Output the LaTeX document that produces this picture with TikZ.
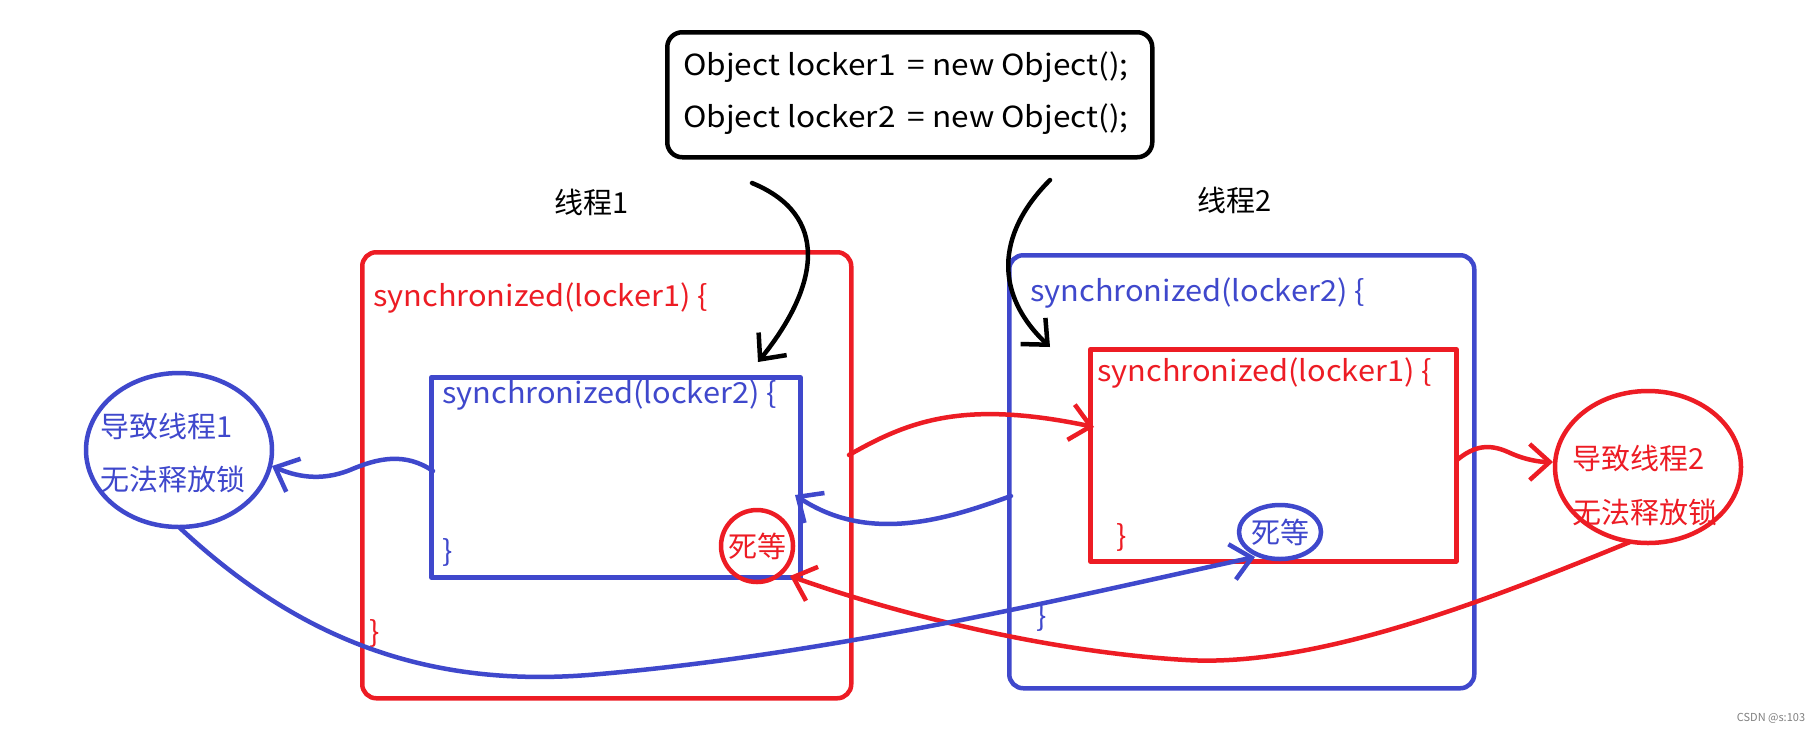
\documentclass[tikz,border=0pt]{standalone}
\usepackage{fontspec}
\setmainfont{Noto Sans CJK SC}
\newfontfamily\latfont[FakeStretch=1.06]{Noto Sans CJK SC}
\newfontfamily\codefont[FakeStretch=1.09]{Noto Sans CJK SC}
\usetikzlibrary{arrows.meta,shapes.geometric}
\definecolor{pred}{HTML}{ED1C24}
\definecolor{pblue}{HTML}{3F48CC}
\begin{document}
\begin{tikzpicture}[x=1pt,y=-1pt,line cap=round,line join=round,
  txt/.style={font=\fontsize{29}{36}\selectfont,inner sep=0pt,anchor=west},
  ltxt/.style={font=\latfont\fontsize{29}{36}\selectfont,inner sep=0pt,anchor=west},
  ctxt/.style={font=\fontsize{29}{36}\selectfont,inner sep=0pt},
  box/.style={line width=4.5pt},
  hand/.style={line width=4.5pt,-{Straight Barb[length=20pt,width=36pt]}},
]
\useasboundingbox (0,0) rectangle (1817,732);
\fill[white] (0,0) rectangle (1817,732);

% code box
\node[draw=black,box,rounded corners=15pt,minimum width=485pt,minimum height=125pt,anchor=north west] (code) at (665,30) {};
\node[ltxt,align=left,font=\codefont\fontsize{29}{52}\selectfont] (codetxt) at (683,93) {Object locker1 \,= new Object();\\Object locker2 \,= new Object();};

% thread labels
\node[ctxt] (th1) at (592,202) {线程1};
\node[ctxt] (th2) at (1235,200) {线程2};

% thread 1
\node[draw=pred,box,rounded corners=14pt,minimum width=489pt,minimum height=446pt,anchor=north west] (t1) at (360,250) {};
\node[ltxt,text=pred] (t1l) at (373,298) {synchronized(locker1) \{};
\node[ltxt,text=pred] (t1e) at (369,633) {\}};
\node[draw=pblue,box,minimum width=369pt,minimum height=200pt,anchor=north west] (t1in) at (429,375) {};
\node[ltxt,text=pblue] (t1inl) at (442,395) {synchronized(locker2) \{};
\node[ltxt,text=pblue] (t1ine) at (442,552) {\}};

% thread 2
\node[draw=pblue,box,rounded corners=14pt,minimum width=465pt,minimum height=433pt,anchor=north west] (t2) at (1007,253) {};
\node[ltxt,text=pblue] (t2l) at (1030,293) {synchronized(locker2) \{};
\node[ltxt,text=pblue] (t2e) at (1036,617) {\}};
\node[draw=pred,box,minimum width=366pt,minimum height=212pt,anchor=north west] (t2in) at (1088,347) {};
\node[ltxt,text=pred] (t2inl) at (1097,373) {synchronized(locker1) \{};
\node[ltxt,text=pred] (t2ine) at (1116,537) {\}};

% dead-wait marks
\node[draw=pred,box,circle,minimum size=72pt,inner sep=0pt,text=pred,font=\fontsize{29}{36}\selectfont] (dw1) at (757,546) {死等};
\node[draw=pblue,box,ellipse,minimum width=78pt,minimum height=54pt,inner sep=0pt,text=pblue,font=\fontsize{29}{36}\selectfont] (dw2) at (1280,532) {死等};

% result ellipses
\draw[pblue,box] (179,450) ellipse [x radius=93pt,y radius=77pt];
\node[txt,text=pblue,align=left,font=\fontsize{29}{53}\selectfont] (res1) at (100,453) {导致线程1\\无法释放锁};
\draw[pred,box] (1648,467) ellipse [x radius=93pt,y radius=76pt];
\node[txt,text=pred,align=left,font=\fontsize{29}{54}\selectfont] (res2) at (1572,485) {导致线程2\\无法释放锁};

% connector end points
\coordinate (b1s) at (752,183); \coordinate (b1e) at (758,362);
\coordinate (b2s) at (1050,180); \coordinate (b2e) at (1050,347);
\coordinate (ras) at (849,455); \coordinate (rae) at (1094,427);
\coordinate (bbs) at (1011,496); \coordinate (bbe) at (795,495);
\coordinate (bcs) at (433,471); \coordinate (bce) at (272,466);
\coordinate (rds) at (1457,460); \coordinate (rde) at (1553,462);
\coordinate (bes) at (180,528); \coordinate (bee) at (1255,557);
\coordinate (rfs) at (1630,542); \coordinate (rfe) at (790,576);

% black arrows
\draw[hand,black] (b1s) .. controls (830,215) and (820,285) .. (b1e);
\draw[hand,black] (b2s) .. controls (995,235) and (995,295) .. (b2e);

% red arrows
\draw[hand,pred] (ras) .. controls (910,420) and (965,400) .. (rae);
\draw[hand,pred] (rds) .. controls (1475,445) and (1490,444) .. (1508,452) .. controls (1525,460) and (1540,462) .. (rde);
\draw[hand,pred] (rfs) .. controls (1500,595) and (1320,668) .. (1186,660) .. controls (1050,652) and (900,615) .. (rfe);

% blue arrows
\draw[hand,pblue] (bbs) .. controls (950,518) and (870,545) .. (bbe);
\draw[hand,pblue] (bcs) .. controls (405,452) and (378,458) .. (350,470) .. controls (320,482) and (295,476) .. (bce);
\draw[hand,pblue] (bes) .. controls (300,640) and (430,690) .. (600,674) .. controls (850,652) and (1100,590) .. (bee);

% watermark
\node[font=\fontsize{11}{13}\selectfont,text=gray,inner sep=0pt] (wm) at (1771,718) {CSDN @s:103};
\end{tikzpicture}
\end{document}
